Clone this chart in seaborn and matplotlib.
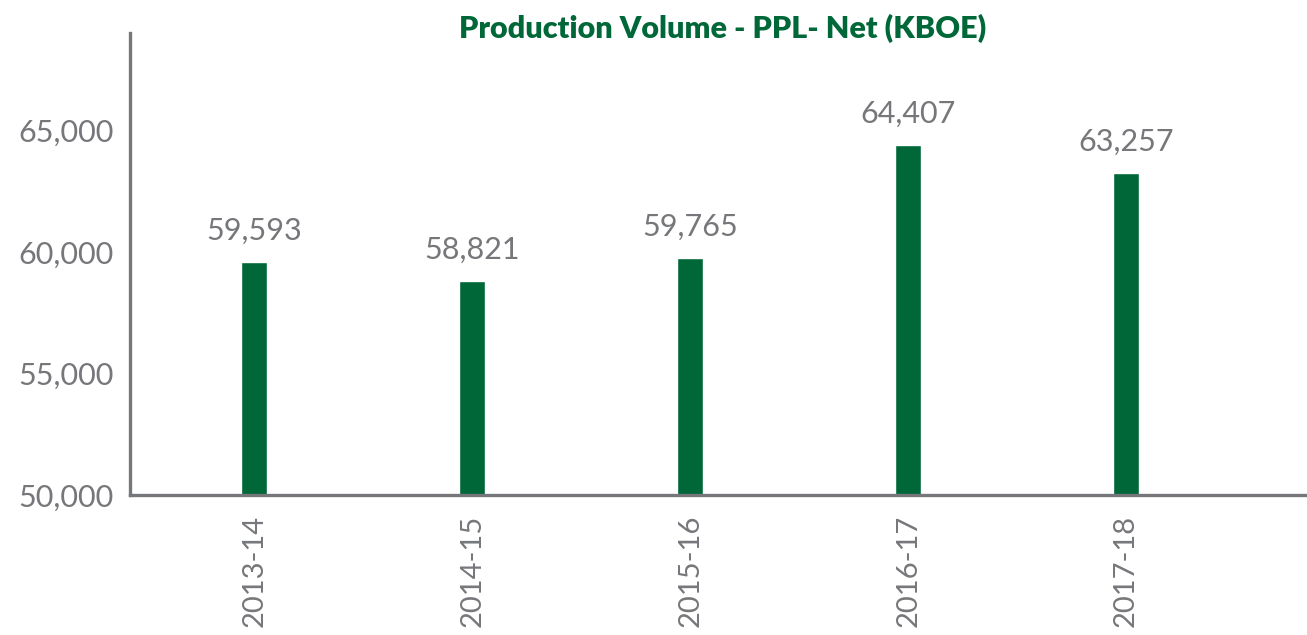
import pandas as pd
import seaborn as sns
import matplotlib.pyplot as plt
from matplotlib.ticker import FuncFormatter

years = ['2013-14', '2014-15', '2015-16', '2016-17', '2017-18']
volume = [59593, 58821, 59765, 64407, 63257]

df = pd.DataFrame({'year': years, 'volume': volume})

green = '#006838'
grey = '#76777a'

sns.set_style('white')
plt.rcParams['font.family'] = ['Lato', 'DejaVu Sans']

fig = plt.figure(figsize=(13.07, 6.35), dpi=100)
ax = fig.add_axes([0.0995, 0.22, 0.9005, 0.728])

sns.barplot(data=df, x='year', y='volume', color=green, width=0.12,
            saturation=1, ax=ax)

ax.set_ylim(50000, 69000)
ax.set_xlim(-0.57, 4.83)
ax.set_yticks([50000, 55000, 60000, 65000])
ax.yaxis.set_major_formatter(FuncFormatter(lambda v, p: f'{int(v):,}'))

# value labels above bars
for i, v in enumerate(volume):
    ax.annotate(f'{v:,}', (i, v), xytext=(0, 12), textcoords='offset points',
                ha='center', va='bottom', fontsize=22, color=grey)

ax.set_xlabel('')
ax.set_ylabel('')
ax.tick_params(axis='x', labelrotation=90, labelsize=21, labelcolor=grey, length=0, pad=14)
ax.tick_params(axis='y', labelsize=22, labelcolor=grey, length=0, pad=12)

sns.despine(ax=ax)
for s in ['left', 'bottom']:
    ax.spines[s].set_color(grey)
    ax.spines[s].set_linewidth(2.4)

fig.text(0.553, 0.955, 'Production Volume - PPL- Net (KBOE)', ha='center',
         va='center', fontsize=22, fontweight='heavy', color=green)

fig.savefig('out.png', dpi=100)
